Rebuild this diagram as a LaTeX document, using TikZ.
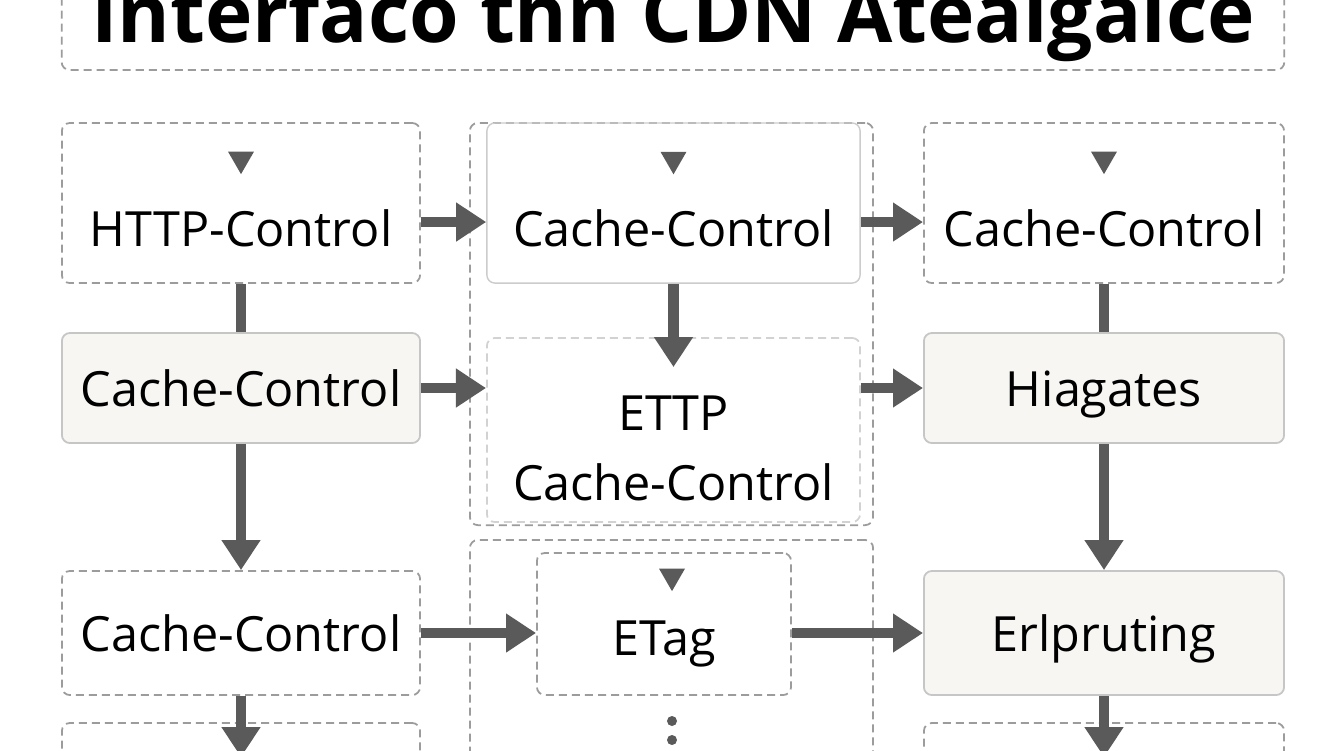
\documentclass[tikz,border=0pt]{standalone}
\usepackage{fontspec}
\setmainfont{Open Sans}
\usetikzlibrary{arrows.meta,shapes.geometric}
\definecolor{linkgray}{HTML}{5A5A5A}
\definecolor{edgegray}{HTML}{9C9C9C}
\definecolor{paper}{HTML}{F7F6F3}

\begin{document}
\begin{tikzpicture}[x=0.01cm,y=-0.01cm,
  every node/.style={font=\fontsize{13.8}{19.9}\selectfont,inner sep=0pt},
  boxtext/.style={text height=0.5cm,text depth=0.14cm},
  dashbox/.style={draw=edgegray,dash pattern=on 0.08cm off 0.05cm,line width=0.5pt,rounded corners=0.08cm,boxtext},
  fillbox/.style={draw=gray!45,fill=paper,line width=0.5pt,rounded corners=0.08cm,boxtext},
  softbox/.style={draw=gray!40,line width=0.4pt,rounded corners=0.08cm,boxtext},
  lowtext/.style={text height=#1,text depth=0.14cm},
  flow/.style={draw=linkgray,line width=0.1cm,-{Triangle[length=0.3cm,width=0.37cm]}},
  link/.style={draw=linkgray,line width=0.1cm},
  marker/.style={regular polygon,regular polygon sides=3,shape border rotate=180,fill=linkgray,minimum size=0.3cm},
  dot/.style={circle,fill=linkgray,minimum size=0.1cm}]
\useasboundingbox (0,0) rectangle (1344,750);
\fill[white] (0,0) rectangle (1344,750);

% Title
\node[dashbox,minimum width=12.22cm,minimum height=1.1cm] (titlebox) at (673,15) {};
\node[font=\fontsize{22.8}{26}\selectfont\bfseries,anchor=base] (title) at (673,42) {Interfaco thn CDN Atealgalce};

% Left column
\node[dashbox,minimum width=3.58cm,minimum height=1.6cm,lowtext=1cm] (http) at (241,203) {HTTP-Control};
\node[fillbox,minimum width=3.58cm,minimum height=1.1cm] (cacheA) at (241,388) {Cache-Control};
\node[dashbox,minimum width=3.58cm,minimum height=1.24cm] (cacheB) at (241,633) {Cache-Control};
\node[dashbox,minimum width=3.58cm,minimum height=1.2cm] (leftend) at (241,783) {};

% Middle column
\node[dashbox,minimum width=4.03cm,minimum height=4.02cm] (groupA) at (671.5,324) {};
\node[softbox,minimum width=3.73cm,minimum height=1.6cm,lowtext=1cm] (cacheC) at (673.5,203) {Cache-Control};
\node[dashbox,draw=gray!35,minimum width=3.73cm,minimum height=1.84cm,
  label={[name=ettp-text,align=center,yshift=-0.18cm]center:ETTP\\Cache-Control}] (ettp) at (673.5,430) {};
\node[dashbox,minimum width=4.03cm,minimum height=3.2cm] (groupB) at (671.5,700) {};
\node[dashbox,minimum width=2.54cm,minimum height=1.42cm,lowtext=0.76cm] (etag) at (664,624) {ETag};

% Right column
\node[dashbox,minimum width=3.6cm,minimum height=1.6cm,lowtext=1cm] (cacheD) at (1104,203) {Cache-Control};
\node[fillbox,minimum width=3.6cm,minimum height=1.1cm] (hiag) at (1104,388) {Hiagates};
\node[fillbox,minimum width=3.6cm,minimum height=1.24cm] (erl) at (1104,633) {Erlpruting};
\node[dashbox,minimum width=3.6cm,minimum height=1.2cm] (rightend) at (1104,783) {};

\foreach \n in {http,cacheC,cacheD}
  \node[marker] (\n-mark) at ([yshift=-0.37cm]\n.north) {};
\node[marker] (etag-mark) at ([xshift=0.08cm,yshift=-0.24cm]etag.north) {};
\foreach \y [count=\i] in {721,740}
  \node[dot] (dot\i) at (672,\y) {};

% Connectors
\draw[link] (http) -- (cacheA);
\draw[flow] (cacheA) -- (cacheB);
\draw[flow] (cacheB) -- ([yshift=-0.35cm]leftend.north);
\draw[flow] (cacheC) -- ([yshift=-0.3cm]ettp.north);
\draw[link] (cacheD) -- (hiag);
\draw[flow] (hiag) -- (erl);
\draw[flow] (erl) -- ([yshift=-0.35cm]rightend.north);

\draw[flow] ([yshift=-0.19cm]http.east) -- ([yshift=-0.19cm]cacheC.west);
\draw[flow] ([yshift=-0.19cm]cacheC.east) -- ([yshift=-0.19cm]cacheD.west);
\draw[flow] (cacheA.east) -- (cacheA.east -| ettp.west);
\draw[flow] (ettp.east |- hiag.west) -- (hiag.west);
\draw[flow] (cacheB.east) -- (cacheB.east -| etag.west);
\draw[flow] (etag.east |- erl.west) -- (erl.west);
\end{tikzpicture}
\end{document}
